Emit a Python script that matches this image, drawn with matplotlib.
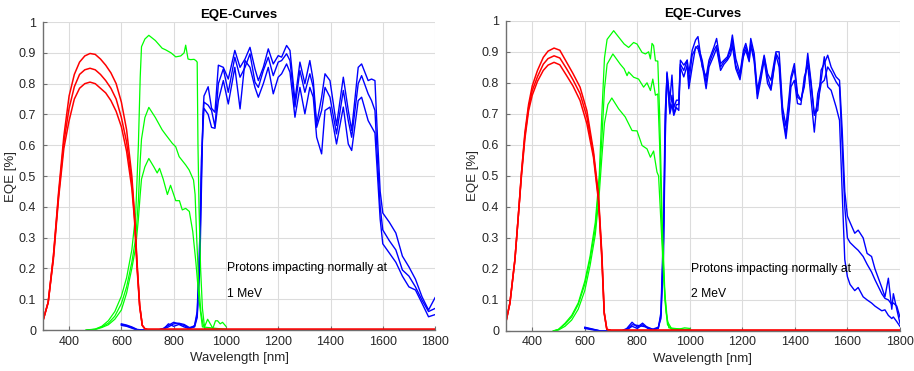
import numpy as np
import matplotlib
matplotlib.use("Agg")
import matplotlib.pyplot as plt
from matplotlib.ticker import FuncFormatter

plt.rcParams['font.family'] = ['Liberation Sans', 'DejaVu Sans']

# ---------------- 1 MeV (left panel) ----------------
red_wl_1 = [300, 320, 340, 360, 380, 400, 420, 440, 460, 480, 500, 520, 540, 560, 580, 600,
            620, 640, 650, 660, 670, 680, 690, 700, 1800]
red_a_1 = [0.03, 0.09, 0.24, 0.45, 0.63, 0.76, 0.83, 0.87, 0.89, 0.898, 0.895, 0.88, 0.86, 0.835,
           0.80, 0.74, 0.65, 0.50, 0.38, 0.22, 0.08, 0.015, 0.004, 0.002, 0.002]
red_b_1 = [0.03, 0.09, 0.24, 0.44, 0.61, 0.72, 0.79, 0.83, 0.845, 0.85, 0.845, 0.83, 0.81, 0.785,
           0.75, 0.69, 0.61, 0.48, 0.37, 0.21, 0.08, 0.015, 0.004, 0.002, 0.002]
red_c_1 = [0.03, 0.09, 0.23, 0.43, 0.59, 0.68, 0.75, 0.785, 0.80, 0.805, 0.80, 0.785, 0.77, 0.745,
           0.71, 0.66, 0.58, 0.46, 0.36, 0.20, 0.075, 0.015, 0.004, 0.002, 0.002]

green_a_wl_1 = [465, 500, 525, 550, 575, 600, 620, 640, 655, 665, 672, 677, 690, 705, 730, 756, 769,
                790, 808, 827, 840, 846, 855, 865, 878, 885, 890, 893, 897, 903, 910, 918, 930, 940,
                950, 960, 968, 978, 987, 1000]
green_a_1 = [0, 0.003, 0.012, 0.03, 0.06, 0.11, 0.17, 0.26, 0.38, 0.6, 0.82, 0.92, 0.945, 0.957,
             0.94, 0.915, 0.91, 0.9, 0.887, 0.89, 0.9, 0.925, 0.88, 0.878, 0.879, 0.875, 0.87, 0.6,
             0.4, 0.2, 0.07, 0.01, 0.035, 0.02, 0.005, 0.03, 0.03, 0.02, 0.025, 0.012]
green_b_wl_1 = [465, 500, 525, 550, 575, 600, 620, 640, 655, 665, 672, 677, 690, 705, 730, 756, 769,
                795, 808, 821, 846, 859, 876, 882, 888, 896, 904, 912, 920, 1000]
green_b_1 = [0, 0.002, 0.01, 0.022, 0.045, 0.086, 0.14, 0.22, 0.3, 0.42, 0.55, 0.62, 0.69, 0.723,
             0.69, 0.65, 0.635, 0.606, 0.595, 0.563, 0.536, 0.52, 0.487, 0.44, 0.3, 0.15, 0.06,
             0.02, 0.003, 0.002]
green_c_wl_1 = [470, 500, 525, 550, 575, 600, 620, 640, 655, 665, 672, 677, 690, 705, 724, 737, 746,
                760, 776, 788, 808, 822, 833, 846, 860, 873, 885, 898, 910, 1000]
green_c_1 = [0, 0.002, 0.008, 0.017, 0.035, 0.065, 0.12, 0.2, 0.27, 0.36, 0.44, 0.49, 0.53, 0.557,
             0.53, 0.51, 0.525, 0.49, 0.44, 0.47, 0.42, 0.42, 0.39, 0.395, 0.385, 0.32, 0.22, 0.09,
             0.01, 0.002]

blue_wl_1 = [600, 620, 640, 660, 680, 700, 720, 740, 760, 780, 800, 820, 840, 860, 880, 890, 900,
             906, 912,
             916, 932, 945, 958, 971, 990, 1009, 1034, 1054, 1073, 1092, 1111, 1124, 1143, 1162,
             1181, 1200, 1213, 1232, 1245, 1264, 1283, 1302, 1321, 1334, 1347, 1366, 1379, 1398,
             1423, 1449, 1468, 1481, 1506, 1519, 1544, 1557,
             1570, 1580, 1590, 1600, 1625, 1650, 1675, 1700, 1725, 1750, 1775, 1800]
blue_a_1 = [0.02, 0.016, 0.01, 0.002, 0, 0, 0, 0, 0.005, 0.015, 0.025, 0.02, 0.015, 0.005, 0.01,
            0.04, 0.2, 0.45, 0.7,
            0.76, 0.79, 0.72, 0.707, 0.86, 0.853, 0.815, 0.908, 0.853, 0.88, 0.918, 0.848, 0.81,
            0.853, 0.913, 0.864, 0.891, 0.886, 0.924, 0.908, 0.745, 0.87, 0.8, 0.875, 0.81, 0.669,
            0.756, 0.832, 0.81, 0.664, 0.821, 0.713, 0.648, 0.853, 0.864, 0.81, 0.815,
            0.81, 0.62, 0.45, 0.38, 0.35, 0.315, 0.24, 0.205, 0.165, 0.108, 0.065, 0.105]
blue_b_1 = [0.018, 0.014, 0.008, 0.001, 0, 0, 0, 0, 0.003, 0.01, 0.02, 0.022, 0.018, 0.008, 0.012,
            0.05, 0.25, 0.5, 0.68,
            0.74, 0.73, 0.713, 0.66, 0.8, 0.848, 0.772, 0.886, 0.821, 0.853, 0.897, 0.805, 0.788,
            0.843, 0.886, 0.826, 0.87, 0.875, 0.897, 0.875, 0.724, 0.843, 0.772, 0.832, 0.788,
            0.658, 0.713, 0.788, 0.756, 0.637, 0.778, 0.68, 0.626, 0.8, 0.826, 0.767, 0.745,
            0.713, 0.55, 0.4, 0.325, 0.29, 0.26, 0.195, 0.175, 0.14, 0.097, 0.06, 0.07]
blue_c_1 = [0.015, 0.012, 0.006, 0, 0, 0, 0, 0, 0.002, 0.02, 0.012, 0.018, 0.01, 0.004, 0.015,
            0.06, 0.3, 0.55, 0.66,
            0.72, 0.7, 0.658, 0.655, 0.745, 0.81, 0.734, 0.853, 0.718, 0.875, 0.853, 0.788, 0.756,
            0.8, 0.853, 0.767, 0.821, 0.832, 0.864, 0.837, 0.691, 0.788, 0.702, 0.788, 0.756,
            0.626, 0.572, 0.713, 0.724, 0.604, 0.724, 0.604, 0.583, 0.745, 0.756, 0.68, 0.66,
            0.64, 0.5, 0.36, 0.28, 0.25, 0.22, 0.175, 0.14, 0.13, 0.087, 0.043, 0.05]

# ---------------- 2 MeV (right panel) ----------------
red_wl_2 = [300, 315, 334, 346, 359, 372, 386, 400, 420, 442, 460, 483, 505, 531, 555, 582, 608,
            633, 652, 665, 674, 684, 700, 1800]
red_a_2 = [0.03, 0.09, 0.23, 0.36, 0.51, 0.64, 0.73, 0.79, 0.84, 0.882, 0.902, 0.912, 0.905, 0.866,
           0.83, 0.786, 0.71, 0.58, 0.44, 0.25, 0.06, 0.005, 0.002, 0.002]
red_b_2 = [0.03, 0.09, 0.23, 0.36, 0.51, 0.63, 0.72, 0.775, 0.82, 0.86, 0.878, 0.887, 0.88, 0.845,
           0.81, 0.765, 0.69, 0.57, 0.43, 0.24, 0.06, 0.005, 0.002, 0.002]
red_c_2 = [0.03, 0.09, 0.23, 0.36, 0.50, 0.62, 0.71, 0.76, 0.805, 0.84, 0.857, 0.866, 0.858, 0.823,
           0.79, 0.743, 0.668, 0.56, 0.42, 0.23, 0.055, 0.005, 0.002, 0.002]

green_a_wl_2 = [480, 500, 525, 550, 575, 600, 620, 640, 655, 665, 675, 685, 710, 735, 750, 767, 786,
                799, 818, 831, 843, 850, 856, 862, 869, 878, 885, 895, 905, 915, 930, 960, 980, 1000]
green_a_2 = [0, 0.005, 0.025, 0.05, 0.09, 0.16, 0.24, 0.35, 0.5, 0.7, 0.88, 0.94, 0.968, 0.941,
             0.925, 0.914, 0.93, 0.925, 0.898, 0.893, 0.9, 0.877, 0.927, 0.92, 0.871, 0.87, 0.7,
             0.35, 0.12, 0.03, 0.008, 0.006, 0.01, 0.008]
green_b_wl_2 = [480, 500, 525, 550, 575, 600, 620, 640, 655, 665, 675, 685, 707, 735, 750, 761, 767,
                786, 805, 824, 837, 850, 859, 869, 878, 885, 895, 905, 915, 930, 1000]
green_b_2 = [0, 0.005, 0.022, 0.045, 0.085, 0.15, 0.23, 0.33, 0.48, 0.62, 0.78, 0.86, 0.893, 0.86,
             0.845, 0.823, 0.835, 0.818, 0.812, 0.786, 0.8, 0.775, 0.812, 0.76, 0.764, 0.6, 0.3,
             0.1, 0.02, 0.005, 0.005]
green_c_wl_2 = [485, 500, 525, 550, 575, 600, 620, 640, 655, 665, 675, 688, 703, 729, 754, 780, 799,
                818, 837, 850, 862, 875, 881, 890, 900, 910, 920, 1000]
green_c_2 = [0, 0.003, 0.015, 0.035, 0.07, 0.13, 0.21, 0.31, 0.44, 0.56, 0.67, 0.73, 0.751, 0.716,
             0.69, 0.646, 0.645, 0.598, 0.587, 0.56, 0.58, 0.512, 0.5, 0.35, 0.18, 0.06, 0.01, 0.003]

blue_wl_2 = [600, 620, 640, 660, 680, 700, 720, 740, 760, 780, 800, 820, 840, 860, 880, 890, 900,
             906,
             913, 924, 932, 939, 949, 958, 964, 977, 990, 996, 1009, 1022, 1031, 1047, 1062, 1073,
             1092, 1102, 1117, 1130, 1143, 1155, 1162, 1175, 1191, 1204, 1213, 1226, 1232, 1245,
             1257, 1270, 1283, 1296, 1309, 1328, 1340, 1353, 1366, 1379, 1385, 1398, 1410, 1423,
             1436, 1449, 1461, 1474, 1487, 1500, 1512, 1525, 1538, 1557,
             1570, 1580, 1590, 1600, 1610, 1628, 1641, 1660, 1675, 1692, 1705, 1731, 1743, 1756,
             1769, 1775, 1788, 1800]
blue_a_2 = [0.012, 0.008, 0.004, 0, 0, 0, 0, 0, 0.008, 0.028, 0.012, 0.025, 0.01, 0.006, 0.012,
            0.04, 0.25, 0.6,
            0.835, 0.745, 0.825, 0.72, 0.744, 0.744, 0.873, 0.857, 0.873, 0.83, 0.905, 0.938,
            0.949, 0.851, 0.819, 0.873, 0.916, 0.943, 0.862, 0.873, 0.884, 0.916, 0.954, 0.878,
            0.83, 0.905, 0.927, 0.884, 0.943, 0.895, 0.776, 0.83, 0.889, 0.83, 0.808, 0.9, 0.9,
            0.722, 0.66, 0.765, 0.819, 0.862, 0.765, 0.744, 0.787, 0.895, 0.808, 0.70, 0.711,
            0.841, 0.862, 0.889, 0.851, 0.819,
            0.808, 0.65, 0.45, 0.37, 0.35, 0.315, 0.325, 0.3, 0.25, 0.24, 0.2, 0.14, 0.11, 0.17,
            0.07, 0.12, 0.07, 0.025]
blue_b_2 = [0.01, 0.007, 0.003, 0, 0, 0, 0, 0, 0.005, 0.02, 0.018, 0.015, 0.012, 0.004, 0.01,
            0.05, 0.3, 0.65,
            0.83, 0.71, 0.76, 0.70, 0.73, 0.73, 0.86, 0.84, 0.873, 0.80, 0.889, 0.911, 0.92,
            0.873, 0.80, 0.862, 0.905, 0.92, 0.851, 0.868, 0.878, 0.905, 0.938, 0.857, 0.819,
            0.895, 0.916, 0.873, 0.93, 0.878, 0.765, 0.819, 0.884, 0.819, 0.781, 0.895, 0.875,
            0.70, 0.636, 0.733, 0.808, 0.846, 0.754, 0.744, 0.798, 0.878, 0.798, 0.695, 0.733,
            0.798, 0.808, 0.851, 0.835, 0.803,
            0.787, 0.6, 0.4, 0.3, 0.285, 0.27, 0.26, 0.24, 0.215, 0.19, 0.165, 0.12, 0.105, 0.1,
            0.085, 0.09, 0.08, 0.045]
blue_c_2 = [0.008, 0.005, 0.002, 0, 0, 0, 0, 0, 0.003, 0.015, 0.008, 0.02, 0.008, 0.003, 0.008,
            0.06, 0.35, 0.7,
            0.82, 0.70, 0.73, 0.695, 0.72, 0.711, 0.85, 0.819, 0.857, 0.781, 0.851, 0.916, 0.91,
            0.86, 0.781, 0.851, 0.889, 0.911, 0.84, 0.86, 0.873, 0.89, 0.92, 0.846, 0.81, 0.884,
            0.905, 0.868, 0.92, 0.87, 0.749, 0.808, 0.873, 0.798, 0.776, 0.889, 0.851, 0.69, 0.62,
            0.72, 0.787, 0.808, 0.733, 0.73, 0.819, 0.857, 0.754, 0.641, 0.765, 0.808, 0.884,
            0.787, 0.776, 0.722,
            0.679, 0.45, 0.23, 0.175, 0.15, 0.13, 0.14, 0.11, 0.1, 0.09, 0.08, 0.065, 0.068, 0.05,
            0.04, 0.045, 0.03, 0.015]

energies = ["1 MeV", "2 MeV"]

panels = [
    dict(red_wl=red_wl_1, reds=[red_a_1, red_b_1, red_c_1],
         greens=[(green_a_wl_1, green_a_1), (green_b_wl_1, green_b_1), (green_c_wl_1, green_c_1)],
         blue_wl=blue_wl_1, blues=[blue_a_1, blue_b_1, blue_c_1]),
    dict(red_wl=red_wl_2, reds=[red_a_2, red_b_2, red_c_2],
         greens=[(green_a_wl_2, green_a_2), (green_b_wl_2, green_b_2), (green_c_wl_2, green_c_2)],
         blue_wl=blue_wl_2, blues=[blue_a_2, blue_b_2, blue_c_2]),
]

fig = plt.figure(figsize=(9.14, 3.71), dpi=100)
rects = [[0.047, 0.1105, 0.429, 0.830], [0.5536, 0.108, 0.431, 0.836]]
ylabel_x = [-0.066, -0.068]

for rect, p, energy, lx in zip(rects, panels, energies, ylabel_x):
    ax = fig.add_axes(rect)
    for yb in p['blues']:
        ax.plot(p['blue_wl'], yb, color='#0000ff', lw=1.0)
    for wl, yg in p['greens']:
        ax.plot(wl, yg, color='#00ff00', lw=0.9)
    for yr in p['reds']:
        ax.plot(p['red_wl'], yr, color='#ff0000', lw=1.1)

    ax.set_xlim(300, 1800)
    ax.set_ylim(0, 1)
    ax.set_xticks(np.arange(400, 1801, 200))
    ax.set_yticks(np.arange(0, 1.01, 0.1))
    ax.yaxis.set_major_formatter(FuncFormatter(lambda v, pos: '%g' % round(v, 2)))
    ax.grid(True, color='#dcdcdc', lw=0.8)
    ax.set_axisbelow(True)
    for s in ['top', 'right']:
        ax.spines[s].set_visible(False)
    for s in ['left', 'bottom']:
        ax.spines[s].set_color('#707070')
        ax.spines[s].set_linewidth(1.0)
    ax.tick_params(direction='in', length=3, width=0.8, color='#707070',
                   labelsize=9, labelcolor='#262626')
    ax.tick_params(axis='y', pad=5)
    ax.tick_params(axis='x', pad=4)
    ax.set_title('EQE-Curves', fontsize=9.5, fontweight='bold', pad=3)
    ax.set_xlabel('Wavelength [nm]', fontsize=9.5, color='#262626', labelpad=3)
    ax.set_ylabel('EQE [%]', fontsize=9.5, color='#262626')
    ax.yaxis.set_label_coords(lx, 0.5)
    ax.text(1003, 0.2, 'Protons impacting normally at', fontsize=8.7, va='center')
    ax.text(1003, 0.118, energy, fontsize=8.7, va='center')

fig.savefig('out.png', dpi=100)
